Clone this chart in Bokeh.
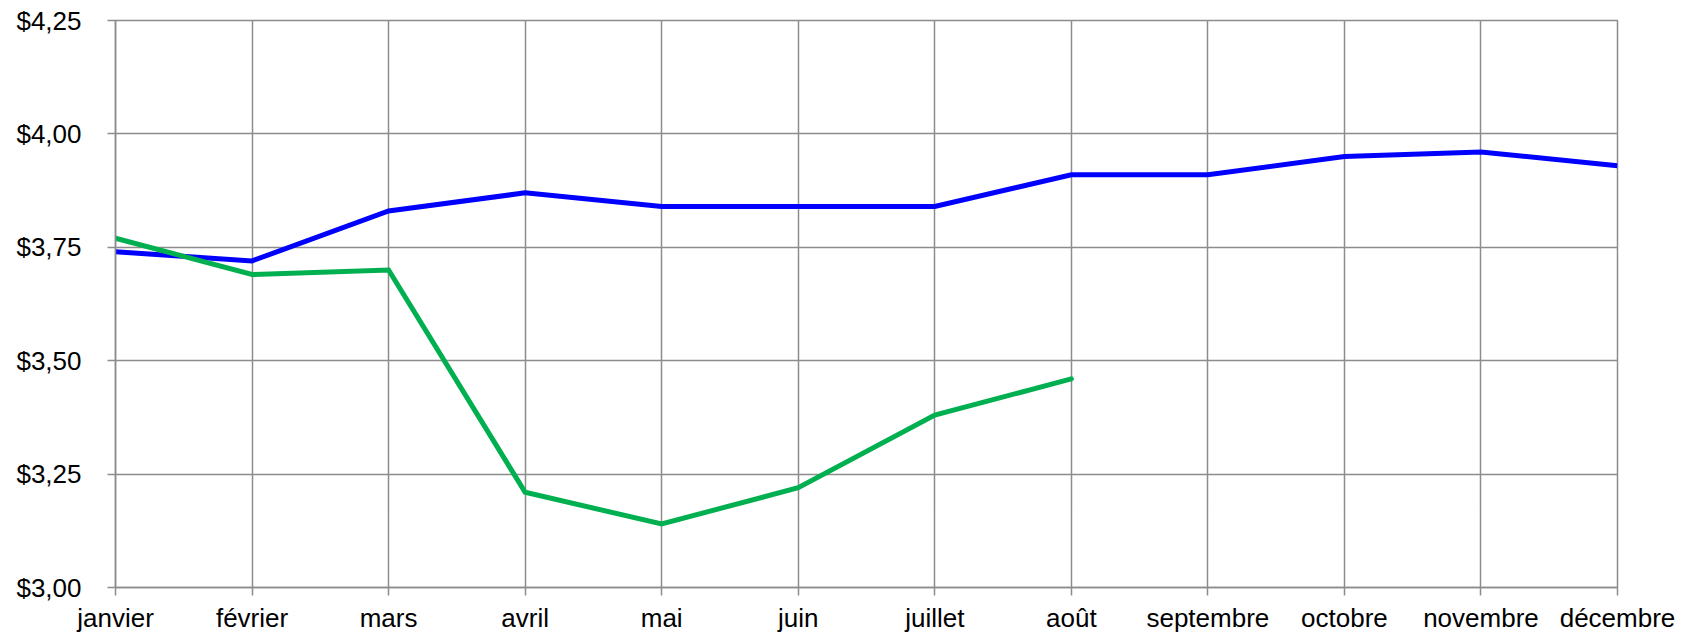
from bokeh.plotting import figure
from bokeh.models import Range1d, FixedTicker
from bokeh.embed import file_html
from bokeh.resources import INLINE

months = ["janvier", "février", "mars", "avril", "mai", "juin", "juillet",
          "août", "septembre", "octobre", "novembre", "décembre"]
blue_values = [3.74, 3.72, 3.83, 3.87, 3.84, 3.84, 3.84, 3.91, 3.91, 3.95, 3.96, 3.93]
green_values = [3.77, 3.69, 3.70, 3.21, 3.14, 3.22, 3.38, 3.46]
y_ticks = [3.00, 3.25, 3.50, 3.75, 4.00, 4.25]
y_tick_labels = ["$3,00", "$3,25", "$3,50", "$3,75", "$4,00", "$4,25"]

GRID = "#8c8c8c"
FONT = "Liberation Sans"

p = figure(frame_width=1502, frame_height=567, output_backend="svg",
           toolbar_location=None, min_border_left=115, min_border_right=66,
           min_border_top=20, min_border_bottom=30,
           x_range=Range1d(0, len(months) - 1), y_range=Range1d(y_ticks[0], y_ticks[-1]))

xs = list(range(len(months)))
p.line(xs, blue_values, line_color="#0000ff", line_width=5, line_join="miter")
p.line(xs[:len(green_values)], green_values, line_color="#00b050", line_width=5,
       line_join="miter", line_cap="round")

p.xaxis.ticker = FixedTicker(ticks=xs)
p.xaxis.major_label_overrides = {i: m for i, m in enumerate(months)}
p.yaxis.ticker = FixedTicker(ticks=y_ticks)
p.yaxis.major_label_overrides = {t: l for t, l in zip(y_ticks, y_tick_labels)}

for ax in (p.xaxis, p.yaxis):
    ax.axis_line_color = GRID
    ax.axis_line_width = 1.5
    ax.major_tick_line_color = GRID
    ax.major_tick_line_width = 1.5
    ax.major_tick_in = 0
    ax.major_tick_out = 8
    ax.minor_tick_line_color = None
    ax.major_label_text_font = FONT
    ax.major_label_text_font_size = "26px"
    ax.major_label_text_color = "#000000"
p.yaxis.major_label_standoff = 26
p.xaxis.major_label_standoff = 7

p.xgrid.ticker = FixedTicker(ticks=xs)
p.ygrid.ticker = FixedTicker(ticks=y_ticks)
for g in (p.xgrid, p.ygrid):
    g.grid_line_color = GRID
    g.grid_line_width = 1.5

p.outline_line_color = GRID
p.outline_line_width = 1.5
p.background_fill_color = "white"
p.border_fill_color = "white"

open("out.html", "w").write(file_html(p, INLINE))
